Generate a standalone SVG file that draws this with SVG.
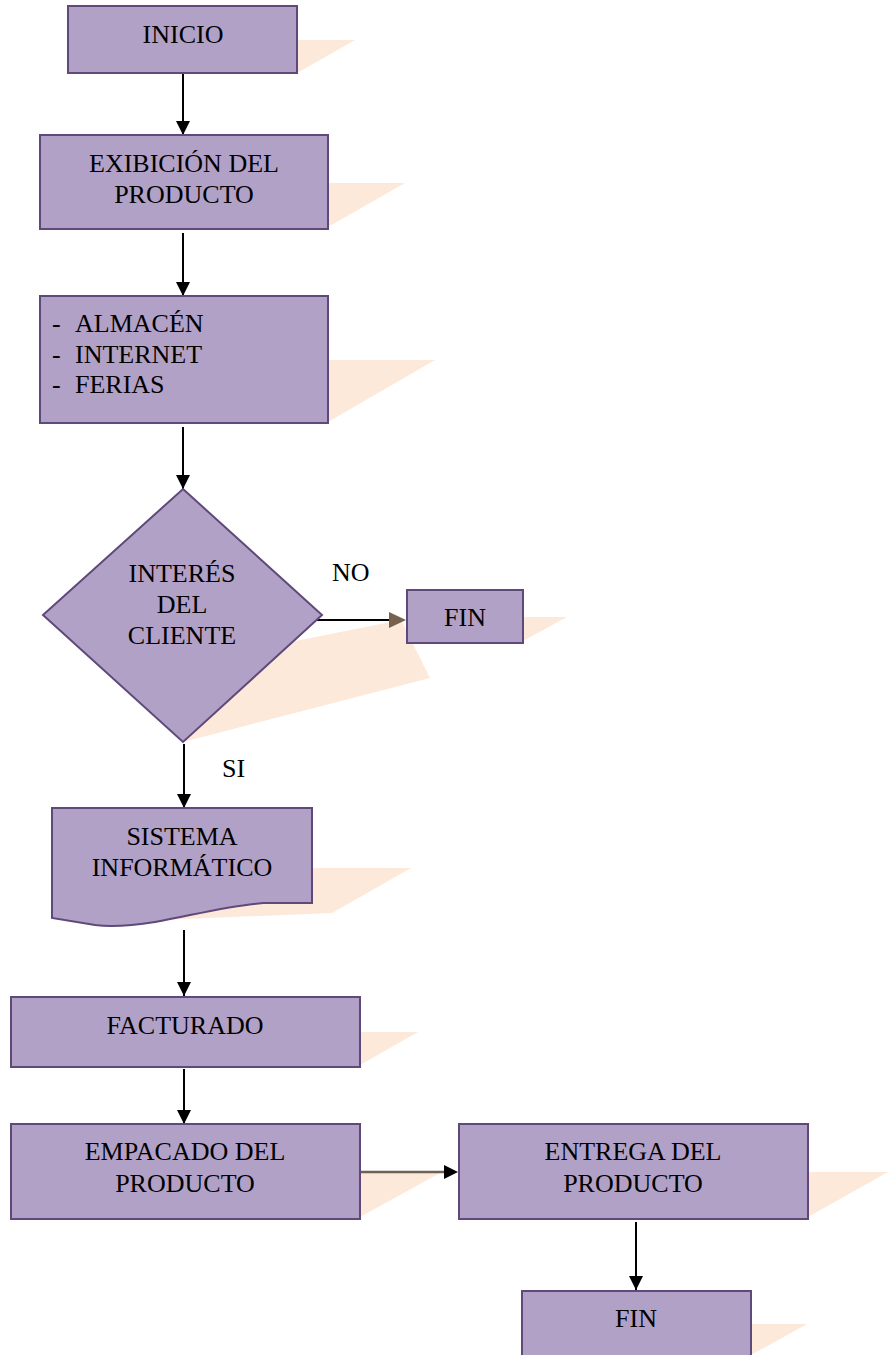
<svg xmlns="http://www.w3.org/2000/svg" width="891" height="1355" viewBox="0 0 891 1355">
  <defs>
    <style>
      .box { fill: #b2a1c7; stroke: #5f497a; stroke-width: 2; }
      .shadow { fill: #fde9d9; stroke: none; }
      .lbl { font-family: "Liberation Serif", "Times New Roman", serif; font-size: 26px; fill: #000; }
      .c { text-anchor: middle; }
      .edge { stroke: #000; stroke-width: 2; fill: none; }
    </style>
    <marker id="arrow" viewBox="0 0 14 14" refX="14" refY="7" markerWidth="14" markerHeight="14" markerUnits="userSpaceOnUse" orient="auto">
      <path d="M0,0 L14,7 L0,14 Z" fill="#000"/>
    </marker>
  </defs>
  <rect width="891" height="1355" fill="#fff"/>

  <!-- drop shadows -->
  <g id="shadows">
    <polygon class="shadow" points="297,40 355,40 297,73"/>
    <polygon class="shadow" points="328,183 405,183 328,227"/>
    <polygon class="shadow" points="328,360 435,360 328,422"/>
    <polygon class="shadow" points="250,650 401,620 430,678 183,742"/>
    <polygon class="shadow" points="523,617 567,617 523,641"/>
    <polygon class="shadow" points="300,868 411,868 332,913 160,920 160,900"/>
    <polygon class="shadow" points="360,1032 418,1032 360,1065"/>
    <polygon class="shadow" points="360,1173 440,1173 360,1217"/>
    <polygon class="shadow" points="808,1172 888,1172 808,1217"/>
    <polygon class="shadow" points="751,1324 807,1324 751,1355"/>
  </g>

  <!-- connectors -->
  <g id="connectors">
    <line class="edge" x1="183" y1="74" x2="183" y2="135" marker-end="url(#arrow)"/>
    <line class="edge" x1="183" y1="233" x2="183" y2="296" marker-end="url(#arrow)"/>
    <line class="edge" x1="183" y1="427" x2="183" y2="489" marker-end="url(#arrow)"/>
    <line class="edge" x1="317" y1="620" x2="392" y2="620"/>
    <path d="M389,612 L406,620 L389,628 Z" fill="#76614d"/>
    <line class="edge" x1="184" y1="744" x2="184" y2="808" marker-end="url(#arrow)"/>
    <line class="edge" x1="184" y1="930" x2="184" y2="996" marker-end="url(#arrow)"/>
    <line class="edge" x1="184" y1="1069" x2="184" y2="1124" marker-end="url(#arrow)"/>
    <line x1="360" y1="1172" x2="446" y2="1172" stroke="#6f6253" stroke-width="2.5"/>
    <path d="M444,1165 L458,1172 L444,1179 Z" fill="#000"/>
    <line class="edge" x1="636" y1="1222" x2="636" y2="1290" marker-end="url(#arrow)"/>
    <text class="lbl" x="332" y="581">NO</text>
    <text class="lbl" x="222" y="777">SI</text>
  </g>

  <g id="inicio">
    <rect class="box" x="68" y="6" width="229" height="67"/>
    <text class="lbl c" x="183" y="43">INICIO</text>
  </g>

  <g id="exhibicion">
    <rect class="box" x="40" y="135" width="288" height="94"/>
    <text class="lbl c" x="184" y="172">EXIBICIÓN DEL</text>
    <text class="lbl c" x="184" y="203">PRODUCTO</text>
  </g>

  <g id="canales">
    <rect class="box" x="40" y="296" width="288" height="127"/>
    <text class="lbl" x="52" y="332">-</text>
    <text class="lbl" x="75" y="332">ALMACÉN</text>
    <text class="lbl" x="52" y="363">-</text>
    <text class="lbl" x="75" y="363">INTERNET</text>
    <text class="lbl" x="52" y="393">-</text>
    <text class="lbl" x="75" y="393">FERIAS</text>
  </g>

  <g id="interes">
    <polygon class="box" points="183,489 322,615 183,742 43,615"/>
    <text class="lbl c" x="182" y="582">INTERÉS</text>
    <text class="lbl c" x="182" y="613">DEL</text>
    <text class="lbl c" x="182" y="644">CLIENTE</text>
  </g>

  <g id="fin-no">
    <rect class="box" x="407" y="590" width="116" height="53"/>
    <text class="lbl c" x="465" y="626">FIN</text>
  </g>

  <g id="sistema">
    <path class="box" d="M52,808 H312 V903 L263,903 C225,906 190,916 155,922 C130,926 110,927 95,925 L52,918 Z"/>
    <text class="lbl c" x="182" y="845">SISTEMA</text>
    <text class="lbl c" x="182" y="876">INFORMÁTICO</text>
  </g>

  <g id="facturado">
    <rect class="box" x="11" y="997" width="349" height="70"/>
    <text class="lbl c" x="185" y="1034">FACTURADO</text>
  </g>

  <g id="empacado">
    <rect class="box" x="11" y="1124" width="349" height="95"/>
    <text class="lbl c" x="185" y="1160">EMPACADO DEL</text>
    <text class="lbl c" x="185" y="1192">PRODUCTO</text>
  </g>

  <g id="entrega">
    <rect class="box" x="459" y="1124" width="349" height="95"/>
    <text class="lbl c" x="633" y="1160">ENTREGA DEL</text>
    <text class="lbl c" x="633" y="1192">PRODUCTO</text>
  </g>

  <g id="fin">
    <rect class="box" x="522" y="1291" width="229" height="80"/>
    <text class="lbl c" x="636" y="1327">FIN</text>
  </g>
</svg>
